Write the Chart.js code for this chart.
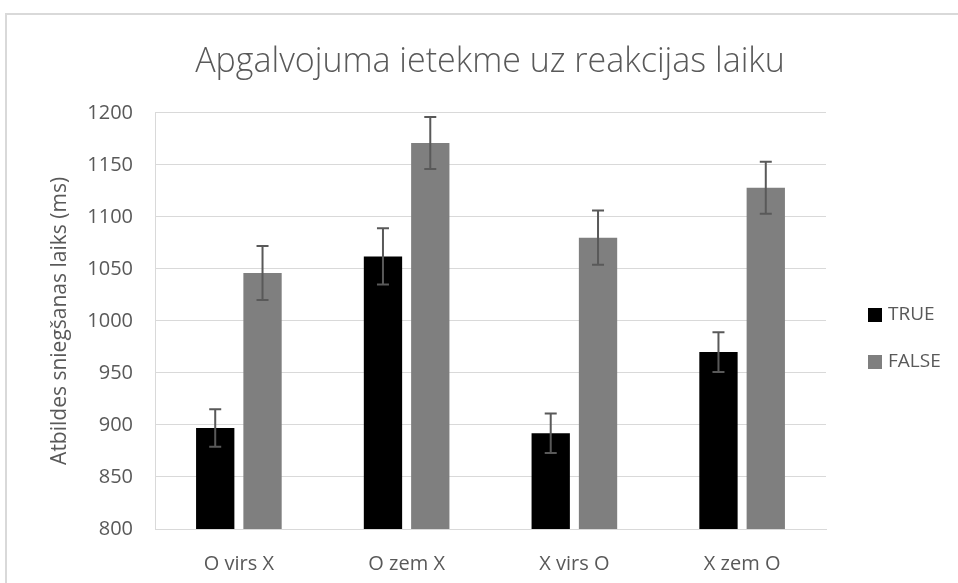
<!DOCTYPE html>
<html>
<head>
<meta charset="utf-8">
<script src="https://cdn.jsdelivr.net/npm/chart.js@4/dist/chart.umd.min.js"></script>
<style>
  html, body { margin: 0; padding: 0; background: #fff; }
  #wrap { position: relative; width: 958px; height: 583px; overflow: hidden; }
  #frame { position: absolute; left: 5px; top: 13px; width: 1000px; height: 1000px;
           border: 2px solid #d9d9d9; box-sizing: border-box; }
  canvas { position: absolute; left: 0; top: 0; }
</style>
</head>
<body>
<div id="wrap">
  <div id="frame"></div>
  <canvas id="chart" width="958" height="583"></canvas>
</div>
<script>
// data
const categories = ['O virs X', 'O zem X', 'X virs O', 'X zem O'];
const series_names = ['TRUE', 'FALSE'];
const true_values = [897, 1062, 892, 970];
const false_values = [1046, 1171, 1080, 1128];
const true_errors = [18, 27, 19, 19];
const false_errors = [26, 25, 26, 25];
const y_ticks = [800, 850, 900, 950, 1000, 1050, 1100, 1150, 1200];

const TEXT_COLOR = '#595959';
const GRID_COLOR = '#d9d9d9';
const FONT = "'Open Sans', sans-serif";

// error bars, drawn from the y scale
const errorBars = {
  id: 'errorBars',
  afterDatasetsDraw(chart) {
    const ctx = chart.ctx;
    const y = chart.scales.y;
    ctx.save();
    ctx.strokeStyle = '#595959';
    ctx.lineWidth = 2;
    chart.data.datasets.forEach((ds, i) => {
      const meta = chart.getDatasetMeta(i);
      meta.data.forEach((bar, j) => {
        const v = ds.data[j];
        const e = ds.errors[j];
        const top = y.getPixelForValue(v + e);
        const bottom = y.getPixelForValue(v - e);
        const cap = 6;
        ctx.beginPath();
        ctx.moveTo(bar.x, top);
        ctx.lineTo(bar.x, bottom);
        ctx.moveTo(bar.x - cap, top);
        ctx.lineTo(bar.x + cap, top);
        ctx.moveTo(bar.x - cap, bottom);
        ctx.lineTo(bar.x + cap, bottom);
        ctx.stroke();
      });
    });
    ctx.restore();
  }
};

// legend on the right, next to the plot
const sideLegend = {
  id: 'sideLegend',
  afterDraw(chart) {
    const ctx = chart.ctx;
    const x = chart.chartArea.right + 42;
    let y = 315;
    ctx.save();
    ctx.font = "19px " + FONT;
    ctx.textBaseline = 'middle';
    ctx.textAlign = 'left';
    chart.data.datasets.forEach((ds) => {
      ctx.fillStyle = ds.backgroundColor;
      ctx.fillRect(x, y - 7, 14, 14);
      ctx.fillStyle = TEXT_COLOR;
      ctx.fillText(ds.label, x + 20, y);
      y += 47;
    });
    ctx.restore();
  }
};

const ctx = document.getElementById('chart');

new Chart(ctx, {
  type: 'bar',
  data: {
    labels: categories,
    datasets: [{
      label: series_names[0],
      data: true_values,
      errors: true_errors,
      backgroundColor: '#000000',
    }, {
      label: series_names[1],
      data: false_values,
      errors: false_errors,
      backgroundColor: '#7f7f7f',
    }]
  },
  options: {
    responsive: false,
    animation: false,
    barPercentage: 0.81,
    categoryPercentage: 0.564,
    layout: {
      padding: { left: 22, right: 0, top: 0, bottom: 0 }
    },
    plugins: {
      legend: { display: false },
      tooltip: { enabled: false },
      title: {
        display: true,
        text: 'Apgalvojuma ietekme uz reakcijas laiku',
        color: TEXT_COLOR,
        font: { family: FONT, size: 34, weight: '300' },
        padding: { top: 42, bottom: 30 },
      },
    },
    scales: {
      x: {
        grid: { display: false, drawTicks: false },
        border: { display: true, color: GRID_COLOR, width: 1 },
        ticks: { color: TEXT_COLOR, font: { family: FONT, size: 20 }, padding: 23 },
        afterFit(scale) { scale.height = 54; },
      },
      y: {
        min: 800,
        max: 1200,
        afterBuildTicks(scale) { scale.ticks = y_ticks.map(v => ({ value: v })); },
        grid: { color: GRID_COLOR, drawTicks: false },
        border: { display: true, color: GRID_COLOR, width: 1 },
        ticks: {
          color: TEXT_COLOR,
          font: { family: FONT, size: 20 },
          padding: 22,
          callback: (v) => String(v),
        },
        title: {
          display: true,
          text: 'Atbildes sniegšanas laiks (ms)',
          color: TEXT_COLOR,
          font: { family: FONT, size: 21 },
          padding: { top: 25 },
        },
        afterFit(scale) { scale.width = 133; },
      },
      // empty space on the right for the legend
      legendSpace: {
        type: 'linear',
        position: 'right',
        min: 0,
        max: 1,
        grid: { display: false, drawTicks: false },
        border: { display: false },
        ticks: { display: false },
        afterFit(scale) { scale.width = 132; },
      }
    }
  },
  plugins: [errorBars, sideLegend]
});
</script>
</body>
</html>
